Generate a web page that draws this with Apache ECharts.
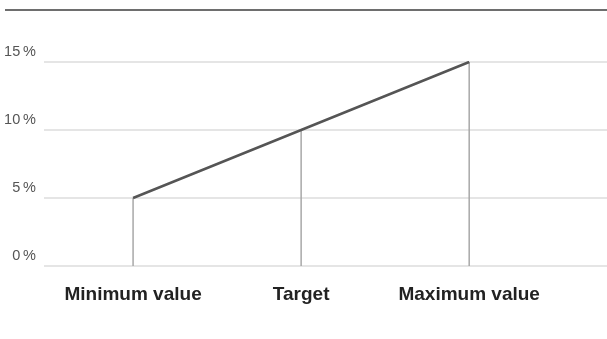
<!DOCTYPE html>
<html>
<head>
<meta charset="utf-8">
<script src="https://cdn.jsdelivr.net/npm/echarts@6/dist/echarts.min.js"></script>
<style>
  html, body { margin: 0; padding: 0; background: #fff; }
  #chart { width: 607px; height: 339px; }
</style>
</head>
<body>
<div id="chart"></div>
<script>
// Category names shown under the x axis
const categories = ['Minimum value', 'Target', 'Maximum value'];
// Percentage at each category
const values = [5, 10, 15];
// Tick values on the y axis
const yTicks = [0, 5, 10, 15];
// Positions of the categories on the numeric x axis
const xPositions = [0, 1, 2];

const chart = echarts.init(document.getElementById('chart'));

const points = xPositions.map((x, i) => [x, values[i]]);

chart.setOption({
  animation: false,
  graphic: [{
    type: 'line',
    shape: { x1: 5, y1: 10, x2: 607, y2: 10 },
    style: { stroke: '#6e6e6e', lineWidth: 2 }
  }],
  grid: { left: 44, right: 0, top: 62, bottom: 73 },
  xAxis: {
    type: 'value',
    min: -0.53,
    max: 2.82,
    axisLine: { show: false },
    axisTick: { show: false },
    splitLine: { show: false },
    axisLabel: {
      customValues: xPositions,
      formatter: v => categories[Math.round(v)] || '',
      fontFamily: 'Liberation Sans, Arial, sans-serif',
      fontWeight: 'bold',
      fontSize: 19,
      color: '#222',
      margin: 19
    }
  },
  yAxis: {
    type: 'value',
    min: 0,
    max: 15,
    interval: 5,
    axisLine: { show: false },
    axisTick: { show: false },
    splitLine: { lineStyle: { color: '#dcdcdc', width: 1.5 } },
    axisLabel: {
      customValues: yTicks,
      formatter: v => v + '\u2009%',
      fontFamily: 'Liberation Sans, Arial, sans-serif',
      fontSize: 14.5,
      color: '#555',
      align: 'right',
      verticalAlign: 'bottom',
      margin: 8,
      padding: [0, 0, 3, 0]
    }
  },
  series: [
    {
      // vertical drop lines from each point down to 0
      type: 'bar',
      data: points,
      barWidth: 1.5,
      itemStyle: { color: '#a8a8a8' },
      silent: true
    },
    {
      type: 'line',
      data: points,
      symbol: 'none',
      lineStyle: { color: '#555', width: 2.5 },
      silent: true,
      z: 3
    }
  ]
});
</script>
</body>
</html>
